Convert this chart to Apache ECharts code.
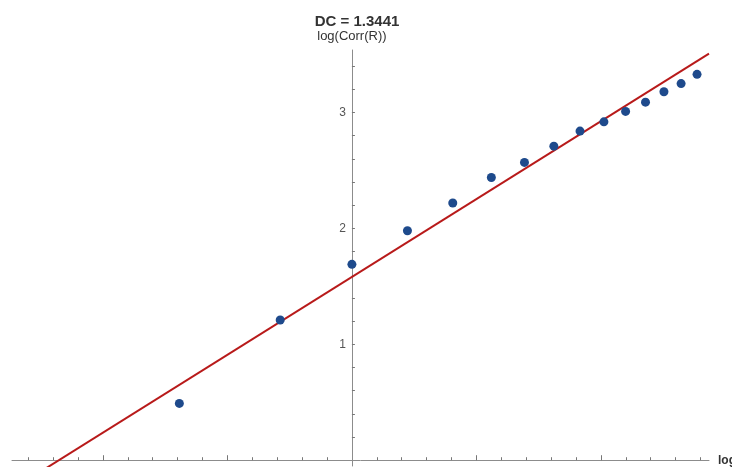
<!DOCTYPE html>
<html>
<head>
<meta charset="utf-8">
<script src="https://cdn.jsdelivr.net/npm/echarts@6/dist/echarts.min.js"></script>
<style>html,body{margin:0;padding:0;background:#fff}#c{width:732px;height:467px}</style>
</head>
<body>
<div id="c"></div>
<script>
// data
const logR = [-0.693, -0.288, 0.000, 0.223, 0.405, 0.560, 0.693, 0.811, 0.916, 1.012, 1.099, 1.179, 1.253, 1.322, 1.386];
const logCorr = [0.49, 1.21, 1.69, 1.98, 2.22, 2.44, 2.57, 2.71, 2.84, 2.92, 3.01, 3.09, 3.18, 3.25, 3.33];
const fitX = [-1.365, 1.434];
const fitY = [-0.253, 3.509];
const xMinorTicks = [-1.3,-1.2,-1.1,-1.0,-0.9,-0.8,-0.7,-0.6,-0.5,-0.4,-0.3,-0.2,-0.1,0.1,0.2,0.3,0.4,0.5,0.6,0.7,0.8,0.9,1.0,1.1,1.2,1.3,1.4];
const xMajorTicks = [-1.0,-0.5,0.5,1.0];
const yMinorTicks = [0.2,0.4,0.6,0.8,1.0,1.2,1.4,1.6,1.8,2.0,2.2,2.4,2.6,2.8,3.0,3.2,3.4];
const yLabels = [1,2,3];
const title = 'DC = 1.3441';

const pts = logR.map((x,i)=>[x, logCorr[i]]);
const fit = fitX.map((x,i)=>[x, fitY[i]]);

const xMin = -1.365, xMax = 1.434;
const gridLeft = 12, gridRight = 23;
const plotW = 732 - gridLeft - gridRight;
const zeroOffset = -plotW * (0 - xMin) / (xMax - xMin); // place y axis at x = 0

const chart = echarts.init(document.getElementById('c'), null, {renderer:'canvas'});
const axisCol = '#8c8c8c';
chart.setOption({
  animation:false,
  title:{text:title, left:352, top:9, textAlign:'center',
    textStyle:{fontFamily:'Liberation Sans, Arial', fontSize:15, fontWeight:'bold', color:'#333'}},
  grid:{left:gridLeft, right:gridRight, top:50, bottom:1, containLabel:false, outerBoundsMode:'none'},
  xAxis:[{
    type:'value', min:xMin, max:xMax, position:'bottom',
    axisLine:{onZero:true, onZeroAxisIndex:0, lineStyle:{color:axisCol, width:1}},
    axisTick:{show:true, inside:true, length:3, customValues:xMinorTicks, lineStyle:{color:'#777'}},
    axisLabel:{show:false}, splitLine:{show:false},
    name:'log(R)', nameLocation:'end', nameGap:9,
    nameTextStyle:{fontFamily:'Liberation Sans, Arial', fontSize:12, color:'#333', fontWeight:'bold'}
  },{
    type:'value', min:xMin, max:xMax, position:'bottom',
    axisLine:{show:false, onZero:true, onZeroAxisIndex:0},
    axisTick:{show:true, inside:true, length:5, customValues:xMajorTicks, lineStyle:{color:'#777'}},
    axisLabel:{show:false}, splitLine:{show:false}
  }],
  yAxis:{
    type:'value', min:-0.05, max:3.54, position:'left', offset:zeroOffset,
    axisLine:{show:true, onZero:false, lineStyle:{color:axisCol, width:1}},
    axisTick:{show:true, inside:true, length:3, customValues:yMinorTicks, lineStyle:{color:'#777'}},
    axisLabel:{show:true, customValues:yLabels, margin:6, color:'#555', fontSize:12, fontFamily:'Liberation Sans, Arial'},
    splitLine:{show:false},
    name:'log(Corr(R))', nameLocation:'end', nameGap:7,
    nameTextStyle:{fontFamily:'Liberation Sans, Arial', fontSize:13, color:'#333', align:'center'}
  },
  series:[{
    type:'line', data:fit, showSymbol:false, symbol:'none', clip:true, xAxisIndex:0,
    lineStyle:{color:'#b81a1a', width:2}, z:2
  },{
    type:'scatter', data:pts, symbolSize:9, xAxisIndex:0,
    itemStyle:{color:'#1e4a8c', opacity:1}, z:3
  }]
});
</script>
</body>
</html>
